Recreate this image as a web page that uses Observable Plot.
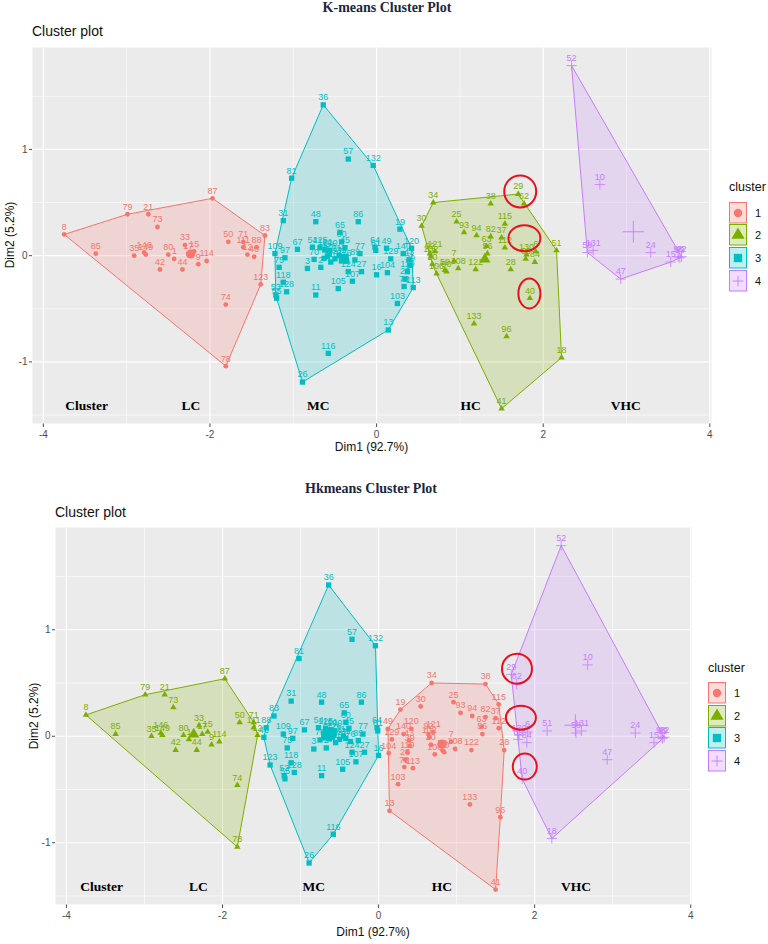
<!DOCTYPE html>
<html><head><meta charset="utf-8">
<script src="https://cdn.jsdelivr.net/npm/d3@7"></script>
<script src="https://cdn.jsdelivr.net/npm/@observablehq/plot@0.6"></script>
<style>
body{margin:0;background:#fff;}
#root{position:relative;width:768px;height:944px;overflow:hidden;background:#fff;font-family:"Liberation Sans",Arial,sans-serif;}
.abs{position:absolute;white-space:nowrap;line-height:1;}
.title{font-family:"Liberation Serif","Times New Roman",serif;font-weight:bold;font-size:14px;color:#1b2741;transform:translate(-50%,-50%);}
.sub{font-size:14px;color:#111;transform:translateY(-50%);}
.xlab{font-size:12px;color:#111;transform:translate(-50%,-50%);}
.ylab{font-size:12px;color:#111;transform:translate(-50%,-50%) rotate(-90deg);}
.legtitle{font-size:12.5px;color:#111;transform:translateY(-50%);}
.legnum{font-size:11px;color:#111;transform:translateY(-50%);}
</style></head><body><div id="root"></div>
<script>
// ---------------- data (rows of 10) ----------------
const pointIds = [
 "8","79","21","73","87","83","85","35","146","149",
 "80","1","33","42","44","17","15","9","114","50",
 "71","111","88","12","46","123","74","78","36","57",
 "132","81","31","48","86","65","60","45","67","54",
 "109","97","75","3","118","128","53","55","11","105",
 "116","26","77","89","124","107","27","16","64","61",
 "125","101","100","70","2","4","5","110","126","127",
 "117","32","76","19","49","120","140","129","43","39",
 "104","119","23","113","72","103","13","34","38","29",
 "62","30","25","93","94","82","37","115","63","112",
 "130","69","6","84","51","28","122","56","40","121",
 "102","20","106","7","108","59","90","92","133","96",
 "18","41","52","10","58","131","24","47","15","98",
 "99","22"
];
const dim1 = [
 -3.75,-2.99,-2.74,-2.63,-1.97,-1.34,-3.37,-2.91,-2.79,-2.77,
 -2.50,-2.43,-2.30,-2.60,-2.33,-2.26,-2.19,-2.14,-2.04,-1.78,
 -1.60,-1.60,-1.44,-1.55,-1.47,-1.39,-1.81,-1.81,-0.64,-0.34,
 -0.04,-1.02,-1.12,-0.73,-0.22,-0.44,-0.42,-0.38,-0.95,-0.77,
 -1.22,-1.10,-1.17,-0.83,-1.12,-1.08,-1.21,-1.20,-0.73,-0.46,
 -0.58,-0.89,-0.20,-0.26,-0.34,-0.29,-0.18,0.00,-0.02,-0.01,
 -0.68,-0.62,-0.56,-0.75,-0.67,-0.63,-0.59,-0.55,-0.57,-0.50,
 -0.45,-0.42,-0.36,0.28,0.12,0.42,0.32,0.17,0.39,0.40,
 0.13,0.37,0.34,0.44,0.33,0.25,0.14,0.68,1.37,1.70,
 1.77,0.54,0.96,1.05,1.20,1.37,1.50,1.54,1.32,1.54,
 1.80,1.79,1.91,1.90,2.16,1.61,1.19,1.33,1.84,0.70,
 0.65,0.67,0.72,0.93,0.98,0.82,0.84,0.64,1.17,1.56,
 2.22,1.50,2.34,2.68,2.53,2.60,3.29,2.93,3.53,3.62,
 3.64,3.66
];
const dim2 = [
 0.20,0.39,0.39,0.27,0.54,0.19,0.02,0.00,0.03,0.01,
 0.01,-0.03,0.10,-0.13,-0.13,0.02,0.04,-0.08,-0.05,0.13,
 0.13,0.08,0.08,0.01,-0.01,-0.27,-0.46,-1.04,1.42,0.91,
 0.85,0.73,0.33,0.32,0.32,0.22,0.13,0.075,0.06,0.08,
 0.02,-0.02,-0.11,-0.12,-0.25,-0.34,-0.37,-0.40,-0.37,-0.31,
 -0.92,-1.19,0.02,-0.04,-0.15,-0.24,-0.15,-0.18,0.08,0.05,
 0.075,0.06,0.05,-0.035,-0.11,-0.025,-0.01,-0.06,0.02,-0.03,
 0.00,-0.02,-0.05,0.25,0.07,0.07,0.02,-0.03,-0.04,-0.09,
 -0.16,-0.15,-0.22,-0.30,-0.29,-0.45,-0.70,0.50,0.49,0.58,
 0.49,0.28,0.32,0.22,0.19,0.18,0.17,0.30,0.09,0.075,
 0.01,-0.03,0.04,-0.06,0.05,-0.13,-0.13,0.02,-0.40,0.04,
 -0.01,-0.08,-0.17,-0.05,-0.12,-0.135,-0.15,0.02,-0.64,-0.76,
 -0.96,-1.44,1.79,0.67,0.03,0.05,0.03,-0.22,-0.06,-0.01,
 -0.02,-0.01
];
// K-means: 1 = LC, 2 = HC, 3 = MC, 4 = VHC
const kmeansCluster = [
 1,1,1,1,1,1,1,1,1,1,
 1,1,1,1,1,1,1,1,1,1,
 1,1,1,1,1,1,1,1,3,3,
 3,3,3,3,3,3,3,3,3,3,
 3,3,3,3,3,3,3,3,3,3,
 3,3,3,3,3,3,3,3,3,3,
 3,3,3,3,3,3,3,3,3,3,
 3,3,3,3,3,3,3,3,3,3,
 3,3,3,3,3,3,3,2,2,2,
 2,2,2,2,2,2,2,2,2,2,
 2,2,2,2,2,2,2,2,2,2,
 2,2,2,2,2,2,2,2,2,2,
 2,2,4,4,4,4,4,4,4,4,
 4,4
];
// Hkmeans: 1 = HC, 2 = LC, 3 = MC, 4 = VHC
const hkmeansCluster = [
 2,2,2,2,2,3,2,2,2,2,
 2,2,2,2,2,2,2,2,2,2,
 2,2,3,2,3,3,2,2,3,3,
 3,3,3,3,3,3,3,3,3,3,
 3,3,3,3,3,3,3,3,3,3,
 3,3,3,3,3,3,3,3,3,3,
 3,3,3,3,3,3,3,3,3,3,
 3,3,3,1,1,1,1,1,1,1,
 1,1,1,1,1,1,1,1,1,4,
 4,1,1,1,1,1,1,1,1,1,
 4,4,4,4,4,1,1,1,4,1,
 1,1,1,1,1,1,1,1,1,1,
 4,1,4,4,4,4,4,4,4,4,
 4,4
];
const clusterNames = ["1","2","3","4"];
const clusterColors = ["#F8766D","#7CAE00","#00BFC4","#C77CFF"];
const xMajorTicks = [-4,-2,0,2,4];
const xMinorTicks = [-3,-1,1,3];
const yMajorTicks = [-1,0,1];
const yMinorTicks = [-1.5,-0.5,0.5,1.5];
const groupLabels = ["Cluster","LC","MC","HC","VHC"];
const kmeansGroupX = [-3.48,-2.23,-0.70,1.13,2.99];
const hkmeansGroupX = [-3.55,-2.31,-0.83,0.81,2.53];
const groupLabelY = -1.41;
const kmeansHighlightX = [1.73,1.78,1.84];
const kmeansHighlightY = [0.60,0.16,-0.36];
const hkmeansHighlightX = [1.78,1.83,1.88];
const hkmeansHighlightY = [0.63,0.17,-0.29];

// ---------------- drawing ----------------
const root = document.getElementById("root");
function addDiv(cls, text, left, top){
  const d = document.createElement("div");
  d.className = "abs " + cls; d.textContent = text;
  d.style.left = left + "px"; d.style.top = top + "px";
  root.appendChild(d); return d;
}
const symbolTypes = [d3.symbolCircle, d3.symbolTriangle, d3.symbolSquare, d3.symbolPlus];

function drawPanel(cfg){
  const pts = pointIds.map((id,i)=>({id, x: dim1[i], y: dim2[i], c: cfg.cluster[i]}));
  const centers = clusterNames.map((n,k)=>{
    const v = pts.filter(d=>d.c===k+1);
    return {c:k+1, x:d3.mean(v,d=>d.x), y:d3.mean(v,d=>d.y)};
  });
  const groups = groupLabels.map((t,i)=>({t, x: cfg.groupX[i], y: groupLabelY}));
  const f = c => (d=>d.c===c);
  const plot = Plot.plot({
    width: 768, height: cfg.height,
    marginLeft: cfg.ml, marginRight: cfg.mr, marginTop: cfg.mt, marginBottom: cfg.mb,
    style: {background:"transparent", fontFamily:'"Liberation Sans", Arial, sans-serif', fontSize:"10px", color:"#4d4d4d", overflow:"visible"},
    x: {domain: cfg.xDomain, ticks: xMajorTicks, tickFormat: d=>String(d), tickSize: 4, tickPadding: 3, label: null},
    y: {domain: [-1.58, 1.96], ticks: yMajorTicks, tickFormat: d=>String(d), tickSize: 3, tickPadding: 2, label: null},
    color: {type:"ordinal", domain:[1,2,3,4], range: clusterColors},
    marks: [
      Plot.frame({fill:"#EBEBEB", stroke:"none"}),
      Plot.ruleX(xMinorTicks, {stroke:"#fff", strokeWidth:0.6}),
      Plot.ruleY(yMinorTicks, {stroke:"#fff", strokeWidth:0.6}),
      Plot.ruleX(xMajorTicks, {stroke:"#fff", strokeWidth:1.2}),
      Plot.ruleY(yMajorTicks, {stroke:"#fff", strokeWidth:1.2}),
      Plot.hull(pts, {x:"x", y:"y", z:"c", fill:"c", fillOpacity:0.2, stroke:"c", strokeWidth:1}),
      Plot.dot(pts, {filter:f(1), x:"x", y:"y", fill:"c", symbol:"circle", r:2.4}),
      Plot.dot(pts, {filter:f(2), x:"x", y:"y", fill:"c", symbol:"triangle", r:2.4}),
      Plot.dot(pts, {filter:f(3), x:"x", y:"y", fill:"c", symbol:"square", r:3.0}),
      Plot.dot(pts, {filter:f(4), x:"x", y:"y", stroke:"c", fill:"none", symbol:"plus", r:3.4, strokeWidth:0.8}),
      Plot.dot(centers, {filter:f(1), x:"x", y:"y", fill:"c", symbol:"circle", r:4.6}),
      Plot.dot(centers, {filter:f(2), x:"x", y:"y", fill:"c", symbol:"triangle", r:4.2}),
      Plot.dot(centers, {filter:f(3), x:"x", y:"y", fill:"c", symbol:"square", r:5.6}),
      Plot.dot(centers, {filter:f(4), x:"x", y:"y", stroke:"c", fill:"none", symbol:"plus", r:7, strokeWidth:0.9}),
      Plot.text(pts, {x:"x", y:"y", text:"id", fill:"c", dy:-7.5, fontSize:9}),
      Plot.text(groups, {x:"x", y:"y", text:"t", fill:"#000", fontSize:13.5, fontWeight:"bold", fontFamily:'"Liberation Serif","Times New Roman",serif'})
    ]
  });
  plot.style.position = "absolute"; plot.style.left = "0px"; plot.style.top = cfg.top + "px";
  root.appendChild(plot);
  // highlight ellipses placed through the plot's own scales
  const xs = plot.scale("x"), ys = plot.scale("y");
  const fx = d3.scaleLinear(xs.domain, xs.range), fy = d3.scaleLinear(ys.domain, ys.range);
  const svg = d3.select(plot);
  cfg.hx.forEach((hx,i)=>{
    svg.append("ellipse").attr("cx", fx(hx)).attr("cy", fy(cfg.hy[i]))
      .attr("rx", cfg.rx[i]).attr("ry", cfg.ry[i])
      .attr("fill","none").attr("stroke","#e8101a").attr("stroke-width",2);
  });
  // titles, axis labels
  addDiv("title", cfg.title, cfg.titleX, cfg.titleY);
  addDiv("sub", "Cluster plot", cfg.ml, cfg.subY);
  const x0 = cfg.ml, x1 = 768 - cfg.mr;
  addDiv("xlab", "Dim1 (92.7%)", (x0+x1)/2, cfg.xlabY);
  addDiv("ylab", "Dim2 (5.2%)", cfg.ylabX, cfg.top + cfg.mt + (cfg.height - cfg.mt - cfg.mb)/2);
  // legend
  addDiv("legtitle", "cluster", cfg.legX, cfg.legY);
  clusterNames.forEach((n,k)=>{
    const ky = cfg.legKeyY + k*22.7;
    const s = d3.create("svg").attr("width",18).attr("height",22)
      .style("position","absolute").style("left",cfg.legX+"px").style("top",ky+"px");
    s.append("rect").attr("x",0.5).attr("y",0.5).attr("width",17).attr("height",20.5)
      .attr("fill",clusterColors[k]).attr("fill-opacity",0.25).attr("stroke",clusterColors[k]).attr("stroke-width",1);
    const sizes = [55, 75, 70, 40];
    const p = s.append("path").attr("transform","translate(9,11)").attr("d", d3.symbol(symbolTypes[k], sizes[k])());
    if (k===3) p.attr("fill","none").attr("stroke",clusterColors[k]).attr("stroke-width",0.9);
    else p.attr("fill",clusterColors[k]);
    root.appendChild(s.node());
    addDiv("legnum", n, cfg.legX + 26, ky + 11);
  });
}

drawPanel({top:0, height:470, ml:32, mr:57, mt:47, mb:47, xDomain:[-4.13,4.02],
  cluster:kmeansCluster, groupX:kmeansGroupX, hx:kmeansHighlightX, hy:kmeansHighlightY,
  rx:[16,16,11], ry:[16,13,15],
  title:"K-means Cluster Plot", titleX:387, titleY:8, subY:31, xlabY:447, ylabX:10,
  legX:729, legY:187, legKeyY:201.5});
drawPanel({top:470, height:474, ml:55, mr:77, mt:57, mb:40, xDomain:[-4.14,4.01],
  cluster:hkmeansCluster, groupX:hkmeansGroupX, hx:hkmeansHighlightX, hy:hkmeansHighlightY,
  rx:[15,15,12], ry:[15,12,13],
  title:"Hkmeans Cluster Plot", titleX:371, titleY:489, subY:512, xlabY:932, ylabX:34,
  legX:708, legY:668, legKeyY:682});
</script></body></html>
